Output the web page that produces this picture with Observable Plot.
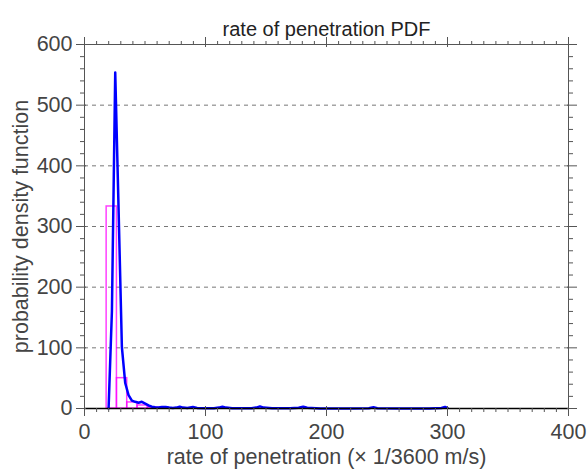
<!DOCTYPE html>
<html><head><meta charset="utf-8">
<script src="https://cdn.jsdelivr.net/npm/d3@7"></script>
<script src="https://cdn.jsdelivr.net/npm/@observablehq/plot@0.6"></script>
<style>body{margin:0;background:#fff}</style>
</head><body><div id="chart"></div>
<script>
const titleText = "rate of penetration PDF";
const xLabelText = "rate of penetration (× 1/3600 m/s)";
const yLabelText = "probability density function";

const xMajorTicks = [0, 100, 200, 300, 400];
const yMajorTicks = [0, 100, 200, 300, 400, 500, 600];
const yGridValues = [100, 200, 300, 400, 500];
const xMinorStep = 10;
const yMinorStep = 20;

// histogram bins (density)
const binStart = [18.3, 26.8, 35.3, 43.8, 52.3];
const binEnd = [26.8, 35.3, 43.8, 52.3, 60.8];
const binDensity = [333, 50, 10, 5, 1.5];

// kernel density estimate curve
const kdeX = [19.9, 22.65, 25.4, 28.15, 30.9, 33.65, 36.4, 39.15, 41.9, 44.65, 47.4, 50.15, 52.9, 55.65, 58.4,
  61, 64, 67, 70, 73, 76, 78.7, 81.5, 85, 89.6, 93, 100, 107, 111, 114, 117, 122, 130, 138, 142, 145, 148,
  155, 170, 177, 180.8, 184, 195, 220, 235, 238.8, 242, 260, 285, 295, 298, 300];
const kdeY = [0, 160, 554, 330, 101, 42, 22, 13, 11, 9.5, 11, 8, 5, 3, 2,
  1.5, 2.5, 2.5, 1.5, 0.8, 1.5, 3, 1.5, 1, 2.5, 1, 0.5, 0.5, 1.5, 3, 1.5, 0.5, 0.3, 0.5, 1.5, 3.5, 1.5,
  0.3, 0.3, 1.2, 3, 1.2, 0.2, 0.2, 0.5, 2, 0.5, 0.2, 0.2, 0.8, 2.5, 1];

const bins = binStart.map((lo, i) => ({lo, hi: binEnd[i], d: binDensity[i]}));
const kde = kdeX.map((x, i) => ({x, y: kdeY[i]}));
const xMinorTicks = d3.range(0, 401, xMinorStep).filter(v => v % 100 !== 0);
const yMinorTicks = d3.range(0, 601, yMinorStep).filter(v => v % 100 !== 0);

const font = "'Liberation Sans', Arial, Helvetica, sans-serif";
const axisGray = "#555";
const textGray = "#444";

const chart = Plot.plot({
  width: 587, height: 470,
  marginLeft: 84, marginRight: 19, marginTop: 44, marginBottom: 62,
  x: {domain: [0, 400]},
  y: {domain: [0, 600]},
  style: {fontFamily: font, fontSize: "21px", background: "#fff", color: textGray},
  marks: [
    Plot.gridY(yGridValues, {stroke: "#777", strokeOpacity: 1, strokeDasharray: "4,4"}),
    Plot.rectY(bins, {x1: "lo", x2: "hi", y: "d", fill: "none", stroke: "#ff00ff", strokeOpacity: 0.75, strokeWidth: 1.5}),
    Plot.line(kde, {x: "x", y: "y", stroke: "#0000ff", strokeWidth: 2.5}),
    Plot.frame({stroke: axisGray}),
    Plot.ruleY([0], {stroke: "#000", strokeWidth: 1.5}),
    // bottom
    Plot.axisX({anchor: "bottom", ticks: xMinorTicks, tickSize: 4, fill: "none", stroke: axisGray, label: null}),
    Plot.axisX({anchor: "bottom", ticks: xMajorTicks, tickSize: 10, dy: -2, fill: "none", stroke: axisGray, label: null}),
    Plot.axisX({anchor: "bottom", ticks: xMajorTicks, tickSize: 0, tickPadding: 15, stroke: "none", fill: textGray, fontSize: 21.5, label: null}),
    // top
    Plot.axisX({anchor: "top", ticks: xMinorTicks, tickSize: 4, fill: "none", stroke: axisGray, label: null}),
    Plot.axisX({anchor: "top", ticks: xMajorTicks, tickSize: 10, dy: 2, fill: "none", stroke: axisGray, label: null}),
    // left
    Plot.axisY({anchor: "left", ticks: yMinorTicks, tickSize: 4, fill: "none", stroke: axisGray, label: null}),
    Plot.axisY({anchor: "left", ticks: yMajorTicks, tickSize: 10, dx: 2, fill: "none", stroke: axisGray, label: null}),
    Plot.axisY({anchor: "left", ticks: yMajorTicks, tickSize: 0, tickPadding: 12, stroke: "none", fill: textGray, fontSize: 21.5, label: null}),
    // right
    Plot.axisY({anchor: "right", ticks: yMinorTicks, tickSize: 4, fill: "none", stroke: axisGray, label: null}),
    Plot.axisY({anchor: "right", ticks: yMajorTicks, tickSize: 10, dx: -2, fill: "none", stroke: axisGray, label: null}),
    // texts
    Plot.text([titleText], {text: d => d, frameAnchor: "top", dy: -23, fontSize: 20, fill: "#222"}),
    Plot.text([xLabelText], {text: d => d, frameAnchor: "bottom", dy: 55, lineAnchor: "bottom", textAnchor: "middle", fontSize: 21.5, fill: textGray}),
    Plot.text([yLabelText], {text: d => d, frameAnchor: "left", dx: -63, rotate: -90, textAnchor: "middle", fontSize: 21.5, fill: textGray})
  ]
});
document.getElementById("chart").appendChild(chart);
</script>
</body></html>
